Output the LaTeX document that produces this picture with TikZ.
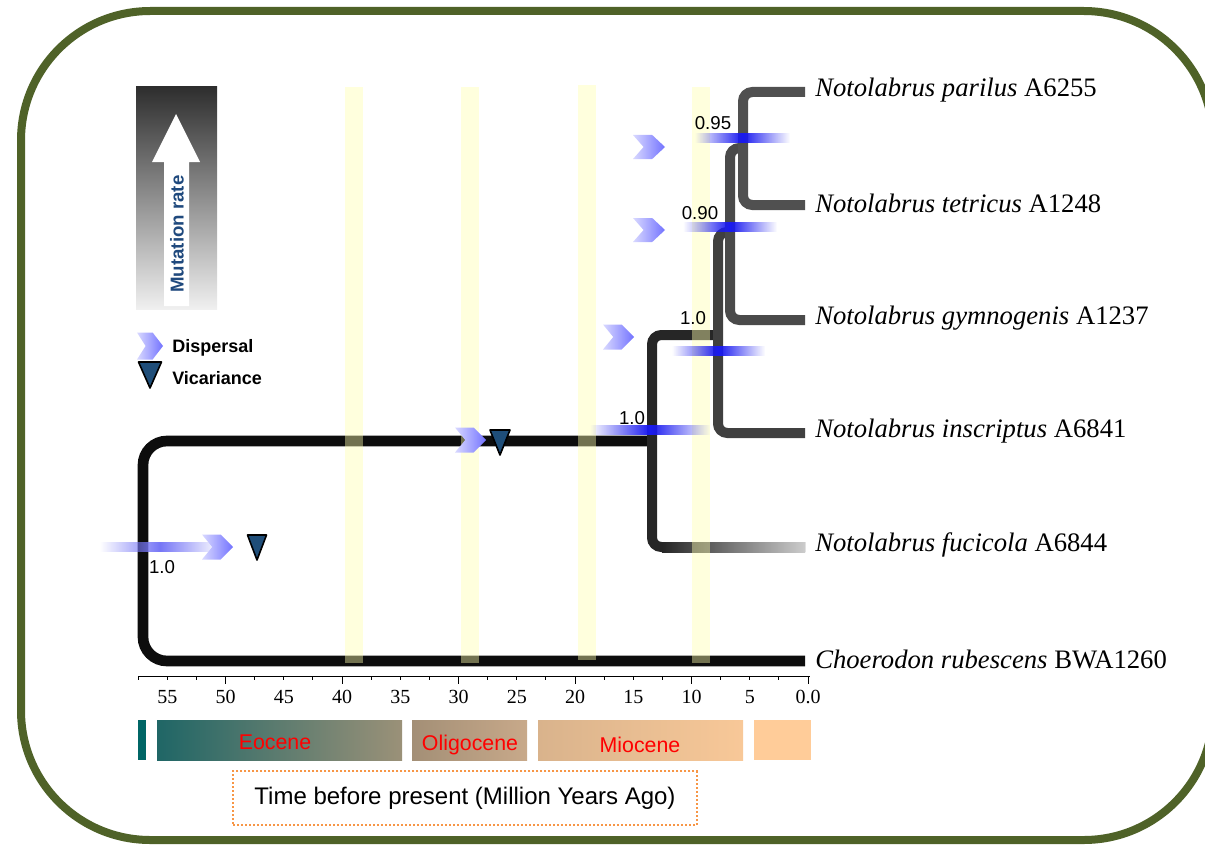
\documentclass[tikz,border=0pt]{standalone}
\usepackage{fontspec}
\setmainfont{Liberation Sans}
\newfontfamily\taxonfont{Liberation Serif}
\usetikzlibrary{positioning,fadings}
\definecolor{frame-olive}{HTML}{4F6228}
\definecolor{band-yellow}{HTML}{FFFFAE}
\definecolor{vicariance-blue}{HTML}{1F4E79}
\definecolor{rate-blue}{HTML}{1F497D}
\definecolor{dispersal-blue}{HTML}{1A1AF0}
\definecolor{time-orange}{HTML}{F79646}
\definecolor{epoch-red}{HTML}{FF0000}
\definecolor{epoch-teal}{HTML}{006666}
\definecolor{eocene-left}{HTML}{1F6666}
\definecolor{eocene-right}{HTML}{9B9178}
\definecolor{oligocene-left}{HTML}{A38F76}
\definecolor{oligocene-right}{HTML}{C8A98A}
\definecolor{miocene-left}{HTML}{D9B38C}
\definecolor{miocene-right}{HTML}{F8C898}
\definecolor{epoch-end}{HTML}{FFCC99}
\definecolor{branch-a}{HTML}{505050}
\definecolor{branch-b}{HTML}{4A4A4A}
\definecolor{branch-c}{HTML}{404040}
\definecolor{branch-d}{HTML}{262626}
\definecolor{branch-root}{HTML}{0D0D0D}
\tikzfading[name=fade ends, left color=transparent!100, right color=transparent!100, middle color=transparent!0]
% x, y (left middle), width, height
\newcommand{\drawChevron}[4]{
	\shade[left color=blue!15, right color=blue!55] (#1,#2) ++(0,{-#4/2}) -- ++({0.6*#3},0) -- ++({0.4*#3},{#4/2}) -- ++({-0.4*#3},{#4/2}) -- ++({-0.6*#3},0) -- ++({0.33*#3},{-#4/2}) -- cycle;
}
% x centre, y top, width, height
\newcommand{\drawVicariance}[4]{
	\draw[vicariance] ({#1-#3/2},#2) -- ({#1+#3/2},#2) -- (#1,{#2+#4}) -- cycle;
}
\tikzset{
	branch/.style={line width=7.5pt, rounded corners=7pt},
	taxon/.style={font=\taxonfont\fontsize{20}{24}\selectfont, inner sep=0pt, yshift=1.5pt},
	support/.style={font=\fontsize{14}{16}\selectfont, inner sep=0pt},
	legend/.style={font=\bfseries\fontsize{13.5}{16}\selectfont, inner sep=0pt, anchor=west},
	epoch/.style={font=\fontsize{16}{19}\selectfont, text=epoch-red, inner sep=0pt},
	ticklabel/.style={font=\taxonfont\fontsize{15}{18}\selectfont, inner sep=0pt},
	band/.style={fill=band-yellow, opacity=0.42},
	dispbar/.style={fill=dispersal-blue, path fading=fade ends},
	vicariance/.style={fill=vicariance-blue, draw=black, line width=1.2pt, line join=round},
}

\begin{document}
\begin{tikzpicture}[x=0.75pt, y=-0.75pt]

	\useasboundingbox (0,0) rectangle (1205,845);
	\clip (0,0) rectangle (1205,845);
	\draw[frame-olive, line width=6pt, rounded corners=97pt] (21,11) rectangle (1213,840);

	% mutation rate scale
	\shade[top color=black!82, bottom color=black!6] (136,87) rectangle (217,309);
	\fill[white] (164,306) -- (164,162) -- (152,162) -- (176,114) -- (200,162) -- (189,162) -- (189,306) -- cycle;
	\node[rotate=90, font=\bfseries\fontsize{14}{16}\selectfont, text=rate-blue, inner sep=0pt] (rateLabel) at (177,234) {Mutation rate};

	% tips and internal nodes
	\coordinate (eParilus)    at (805, 92);
	\coordinate (eTetricus)   at (805,205);
	\coordinate (eGymnogenis) at (805,320);
	\coordinate (eInscriptus) at (805,433);
	\coordinate (eFucicola)   at (805,547);
	\coordinate (eChoerodon)  at (805,661);
	\coordinate (nA)    at (743,148);
	\coordinate (nB)    at (730,232);
	\coordinate (nC)    at (718,335);
	\coordinate (nD)    at (652,441);
	\coordinate (nRoot) at (143,551);

	\draw[branch, branch-root, line width=8pt, rounded corners=18pt] (eChoerodon) -| (nRoot) |- (nD);
	\draw[branch, branch-d] (eFucicola) -| (nD) |- (nC);
	\shade[left color=branch-d, right color=black!20] (662,542) rectangle (805,552);
	\draw[branch, branch-c] (eInscriptus) -| (nC) |- (nB);
	\draw[branch, branch-b] (eGymnogenis) -| (nB) |- (nA);
	\draw[branch, branch-a] (eTetricus) -| (nA) |- (eParilus);

	% time slices
	\foreach \bx/\btop/\bbot in {345/87/663, 461/87/663, 578/85/660, 692/87/663}
		\fill[band] (\bx,\btop) rectangle ({\bx+18},\bbot);

	% dispersal bars
	\fill[dispbar] (695,133) rectangle (790,143);
	\fill[dispbar] (683,222) rectangle (777,232);
	\fill[dispbar] (672,346) rectangle (765,356);
	\fill[dispbar] (590,425) rectangle (710,435);
	\fill[dispbar, fill=dispersal-blue!60] (100,542) rectangle (220,552);

	\drawChevron{633}{147}{32}{24}
	\drawChevron{633}{230}{32}{24}
	\drawChevron{603}{337}{31}{25}
	\drawChevron{455}{440}{31}{25}
	\drawChevron{202}{547}{31}{25}
	\drawChevron{137}{346}{26}{27}

	\drawVicariance{500}{430}{20}{25}
	\drawVicariance{257}{535}{19}{25}
	\drawVicariance{150}{362}{23}{26}

	\node[legend] (dispLabel) at (172,348) {Dispersal};
	\node[legend] (vicLabel)  at (172,378) {Vicariance};

	% support values
	\node[support] (s095)    at (713,123) {0.95};
	\node[support] (s090)    at (700,213) {0.90};
	\node[support] (s10c)    at (693,318) {1.0};
	\node[support] (s10d)    at (632,418) {1.0};
	\node[support] (s10root) at (162,567) {1.0};

	\node[taxon, right=7.5pt of eParilus]    (tParilus)    {\textit{Notolabrus parilus} A6255};
	\node[taxon, right=7.5pt of eTetricus]   (tTetricus)   {\textit{Notolabrus tetricus} A1248};
	\node[taxon, right=7.5pt of eGymnogenis] (tGymnogenis) {\textit{Notolabrus gymnogenis} A1237};
	\node[taxon, right=7.5pt of eInscriptus] (tInscriptus) {\textit{Notolabrus inscriptus} A6841};
	\node[taxon, right=7.5pt of eFucicola]   (tFucicola)   {\textit{Notolabrus fucicola} A6844};
	\node[taxon, right=7.5pt of eChoerodon]  (tChoerodon)  {\textit{Choerodon rubescens} BWA1260};

	% time axis
	\draw[line width=0.75pt] (138,676) -- (810,676);
	\foreach \t in {0,2.5,...,57.5}
		\draw[line width=0.6pt] ({808-11.65*\t},676) -- ++(0,4);
	\foreach \t in {0,10,...,50}
		\draw[line width=0.6pt] ({808-11.65*\t},676) -- ++(0,8);
	\foreach \t in {5,10,...,55}
		\node[ticklabel] (tick\t) at ({808-11.65*\t},697) {\t};
	\node[ticklabel] (tick0) at (808,697) {0.0};

	% epochs
	\fill[epoch-teal] (138,720) rectangle (146,760);
	\shade[left color=eocene-left, right color=eocene-right] (157,720) rectangle (402,760);
	\shade[left color=oligocene-left, right color=oligocene-right] (412,720) rectangle (527,760);
	\shade[left color=miocene-left, right color=miocene-right] (538,720) rectangle (743,760);
	\fill[epoch-end] (754,720) rectangle (811,760);
	\node[epoch] (eocene)    at (275,742) {Eocene};
	\node[epoch] (oligocene) at (470,745) {Oligocene};
	\node[epoch] (miocene)   at (640,745) {Miocene};

	\node[draw=time-orange, dash pattern=on 1.5pt off 1.5pt, line width=1.5pt, minimum width=348pt, minimum height=40pt, font=\fontsize{18}{21}\selectfont] (timeLabel) at (465,798) {Time before present (Million Years Ago)};

\end{tikzpicture}
\end{document}
